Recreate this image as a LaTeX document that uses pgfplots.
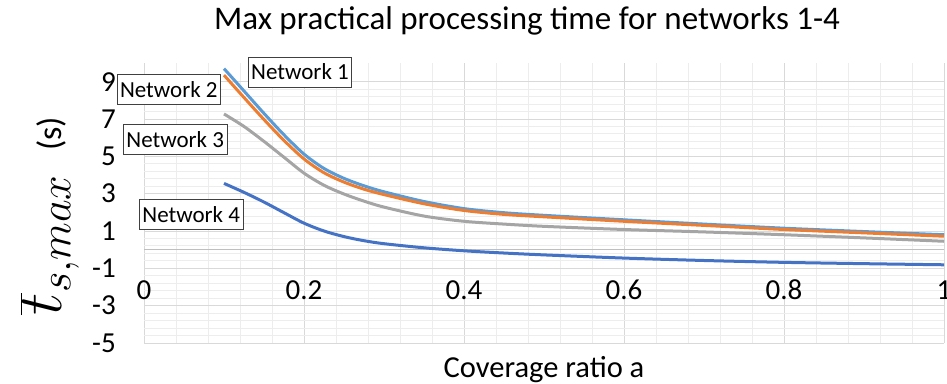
\documentclass[border=0pt]{standalone}
\usepackage{fix-cm}
\usepackage{pgfplots}
\pgfplotsset{compat=1.18}
\usepackage{fontspec}
\setmainfont{Carlito}
\definecolor{cA}{HTML}{5B9BD5}
\definecolor{cB}{HTML}{ED7D31}
\definecolor{cC}{HTML}{A5A5A5}
\definecolor{cD}{HTML}{4472C4}
\definecolor{gridmaj}{HTML}{D9D9D9}
\definecolor{gridmin}{HTML}{EDEDED}
\definecolor{axisgray}{HTML}{BFBFBF}
\tikzset{labelbox/.style={draw=black!75, line width=0.8pt, fill=white, inner xsep=3pt, minimum height=30pt, font=\fontsize{23}{25}\selectfont}}
\begin{document}
\begin{tikzpicture}
\useasboundingbox (0,0) rectangle (947pt,383pt);
\begin{axis}[
 at={(144pt,40pt)}, anchor=south west,
 scale only axis, width=800pt, height=280pt,
 xmin=0, xmax=1, ymin=-5, ymax=10,
 xtick={0,0.2,0.4,0.6,0.8,1}, xticklabels={0,0.2,0.4,0.6,0.8,1},
 ytick={-5,-3,-1,1,3,5,7,9}, yticklabels={-5,-3,-1,1,3,5,7,9},
 minor x tick num=4, minor y tick num=4,
 grid=both,
 major grid style={draw=gridmaj, line width=1pt},
 minor grid style={draw=gridmin, line width=1pt},
 major tick length=0pt, minor tick length=0pt,
 axis line style={draw=none},
 tick label style={font=\fontsize{29}{31}\selectfont, inner sep=0pt},
 xticklabel style={anchor=center, yshift=53pt},
 yticklabel style={anchor=east, xshift=-28pt},
 extra y ticks={0}, extra y tick labels={},
 extra y tick style={grid=major, major grid style={draw=axisgray, line width=1.2pt}},
 clip=false,
 xlabel={Coverage ratio a},
 xlabel style={at={(axis description cs:0.5,0)}, anchor=base, yshift=-34pt, font=\fontsize{30.5}{32}\selectfont},
 every axis plot/.append style={line width=3pt, smooth, no marks},
]
\addplot[cA] coordinates {(0.1,9.7)(0.125,8.5)(0.15,7.3)(0.175,6.15)(0.2,5.12)(0.225,4.35)(0.25,3.82)(0.275,3.42)(0.3,3.1)(0.35,2.58)(0.4,2.2)(0.45,1.98)(0.5,1.84)(0.6,1.6)(0.7,1.37)(0.8,1.15)(0.9,0.97)(1.0,0.8)};
\addplot[cB] coordinates {(0.1,9.35)(0.125,8.15)(0.15,6.97)(0.175,5.85)(0.2,4.86)(0.225,4.12)(0.25,3.62)(0.275,3.24)(0.3,2.95)(0.35,2.46)(0.4,2.1)(0.45,1.89)(0.5,1.76)(0.6,1.52)(0.7,1.3)(0.8,1.08)(0.9,0.9)(1.0,0.72)};
\addplot[cC] coordinates {(0.1,7.27)(0.125,6.6)(0.15,5.8)(0.175,4.95)(0.2,4.1)(0.225,3.45)(0.25,2.98)(0.275,2.6)(0.3,2.28)(0.35,1.8)(0.4,1.52)(0.45,1.37)(0.5,1.25)(0.6,1.08)(0.7,0.95)(0.8,0.8)(0.9,0.63)(1.0,0.45)};
\addplot[cD] coordinates {(0.1,3.55)(0.125,3.07)(0.15,2.55)(0.175,1.98)(0.2,1.42)(0.225,1.0)(0.25,0.7)(0.275,0.48)(0.3,0.32)(0.35,0.1)(0.4,-0.06)(0.45,-0.18)(0.5,-0.28)(0.6,-0.45)(0.7,-0.58)(0.8,-0.68)(0.9,-0.75)(1.0,-0.81)};
\node[labelbox] at (axis cs:0.195,9.52) {Network 1};
\node[labelbox] at (axis cs:0.031,8.6) {Network 2};
\node[labelbox] at (axis cs:0.039,5.91) {Network 3};
\node[labelbox] at (axis cs:0.059,1.88) {Network 4};
\end{axis}
\node[anchor=base, font=\fontsize{33}{35}\selectfont] at (527pt,353pt) {Max practical processing time for networks 1-4};
\node[rotate=90, anchor=base] at (61pt,167pt) {\fontsize{63}{65}\selectfont$\overline{t}_{s,max}$\hspace{24pt}\fontsize{34}{36}\selectfont(s)};
\end{tikzpicture}
\end{document}
